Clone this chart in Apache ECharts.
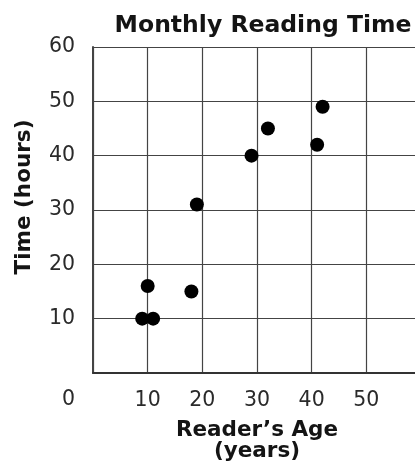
<!DOCTYPE html>
<html>
<head>
<meta charset="utf-8">
<script src="https://cdn.jsdelivr.net/npm/echarts@6/dist/echarts.min.js"></script>
<style>
html,body{margin:0;padding:0;background:#fff;}
#chart{width:415px;height:468px;}
</style>
</head>
<body>
<div id="chart"></div>
<script>
const chartTitle = 'Monthly Reading Time';
const xTitle = 'Reader\u2019s Age\n(years)';
const yTitle = 'Time (hours)';
const ages = [9, 11, 10, 18, 19, 29, 32, 41, 42];
const hours = [10, 10, 16, 15, 31, 40, 45, 42, 49];
const xTickLabels = ['', '10', '20', '30', '40', '50', ''];
const yTickLabels = ['', '10', '20', '30', '40', '50', '60'];
const originLabel = '0';

const points = ages.map((a, i) => [a, hours[i]]);
const font = 'DejaVu Sans, Verdana, sans-serif';
const chart = echarts.init(document.getElementById('chart'), null, {renderer: 'canvas'});
chart.setOption({
  animation: false,
  backgroundColor: '#fff',
  title: {
    text: chartTitle, left: 258, top: 9, textAlign: 'center',
    textStyle: {fontFamily: font, fontWeight: 'bold', fontSize: 23.5, color: '#141414'}
  },
  grid: {left: 93, top: 47, width: 328, bottom: 95, containLabel: false, outerBoundsMode: 'none'},
  xAxis: {
    type: 'value', min: 0, max: 60, interval: 10,
    name: xTitle, nameLocation: 'middle', nameGap: 47,
    nameTextStyle: {fontFamily: font, fontWeight: 'bold', fontSize: 21.5, color: '#141414', lineHeight: 21},
    axisLine: {show: true, lineStyle: {color: '#333', width: 2}},
    axisTick: {show: false},
    axisLabel: {margin: 17, fontFamily: font, fontSize: 20.5, color: '#2a2a2a',
      formatter: (v) => xTickLabels[Math.round(v / 10)] || ''},
    splitLine: {show: true, lineStyle: {color: '#444', width: 1.2}}
  },
  yAxis: {
    type: 'value', min: 0, max: 60, interval: 10,
    axisLine: {show: true, lineStyle: {color: '#444', width: 2}},
    axisTick: {show: false},
    axisLabel: {margin: 18, fontFamily: font, fontSize: 20.5, color: '#2a2a2a',
      formatter: (v) => yTickLabels[Math.round(v / 10)] || ''},
    splitLine: {show: true, lineStyle: {color: '#444', width: 1.2}}
  },
  graphic: [{
    type: 'text', left: 62, top: 389,
    style: {text: originLabel, font: '20.5px ' + font, fill: '#2a2a2a'}
  }, {
    type: 'text', x: 24, y: 197, rotation: Math.PI / 2,
    style: {text: yTitle, font: 'bold 21.5px ' + font, fill: '#141414', align: 'center', verticalAlign: 'middle'}
  }],
  series: [{
    type: 'scatter', data: points, symbol: 'circle', symbolSize: 14,
    itemStyle: {color: '#000', opacity: 1}
  }]
});
</script>
</body>
</html>
